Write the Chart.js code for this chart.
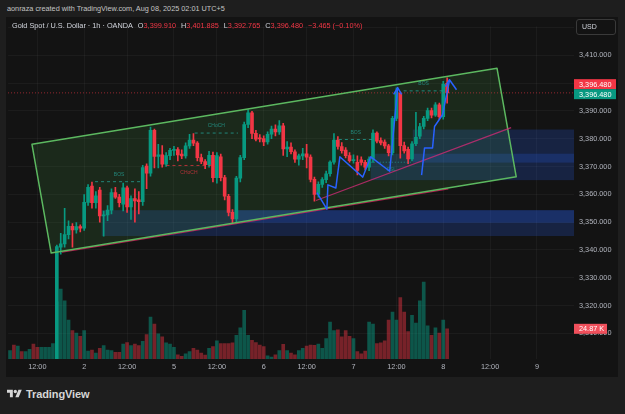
<!DOCTYPE html>
<html>
<head>
<meta charset="utf-8">
<title>XAUUSD 1h - OANDA</title>
<script src="https://cdn.jsdelivr.net/npm/chart.js@4.4.1/dist/chart.umd.min.js"></script>
<style>
  html, body { margin: 0; padding: 0; }
  body { width: 625px; height: 414px; background: #1e1e1e; position: relative; overflow: hidden;
         font-family: "Liberation Sans", Arial, sans-serif; }
  #byline { position: absolute; left: 7px; top: 4px; font-size: 7.3px; line-height: 10px; color: #c4c4c4; white-space: nowrap; }
  #panel { position: absolute; left: 6px; top: 17px; width: 612px; height: 360px; background: #131313; }
  #chart { position: absolute; left: 0; top: 0; }
  #legend { position: absolute; left: 6px; top: 4px; font-size: 7.3px; line-height: 10px; color: #d1d4dc; white-space: nowrap; z-index: 2; }
  #legend .v { color: #f23645; }
  #legend .g { margin-left: 5px; }
  #usd { position: absolute; left: 570px; top: 2px; width: 40px; height: 16px; box-sizing: border-box; border: 1px solid #3a3a3a;
         border-radius: 3px; font-size: 7px; line-height: 14px; color: #d1d4dc; padding-left: 5px; z-index: 2; }
  #brand svg { position: absolute; left: 7px; top: 388px; }
  #brand span { position: absolute; left: 26px; top: 387px; font-size: 11px; line-height: 14px; font-weight: bold; color: #d6d6d6; letter-spacing: -0.1px; }
</style>
</head>
<body>
<div id="byline">aonraza created with TradingView.com, Aug 08, 2025 02:01 UTC+5</div>
<div id="panel">
  <canvas id="chart" width="612" height="360"></canvas>
  <div id="legend"></div>
  <div id="usd">USD</div>
</div>
<div id="brand">
  <svg width="15" height="12" viewBox="0 0 36 28"><path fill="#d6d6d6" d="M14 22H7V11H0V4h14v18zM28 22h-8l7.5-18h8L28 22z"/><circle fill="#d6d6d6" cx="20" cy="8" r="4"/></svg>
  <span>TradingView</span>
</div>
<script>
// hourly candles, Gold Spot / USD (OANDA), from Aug 1 05:00 UTC+5
const open = [3289.0, 3291.0, 3289.0, 3292.0, 3290.5, 3291.8, 3293.2, 3290.0, 3287.5, 3289.4,
  3290.5, 3291.3, 3294.0, 3341.0, 3342.2, 3345.5, 3348.5, 3347.2, 3348.4, 3347.8,
  3357.1, 3363.0, 3357.0, 3361.5, 3352.2, 3352.6, 3354.3, 3360.6, 3359.0, 3356.5,
  3362.3, 3355.5, 3358.5, 3358.0, 3357.4, 3370.2, 3367.6, 3383.0, 3373.6, 3374.2,
  3370.8, 3373.9, 3375.8, 3376.1, 3374.5, 3373.8, 3377.4, 3379.5, 3378.4, 3373.2,
  3371.8, 3370.7, 3374.0, 3366.0, 3373.5, 3366.0, 3359.3, 3353.5, 3351.2, 3365.8,
  3373.2, 3385.1, 3389.3, 3381.9, 3380.3, 3380.0, 3378.8, 3381.6, 3383.5, 3382.4,
  3384.6, 3376.3, 3377.0, 3375.3, 3372.6, 3373.8, 3374.6, 3373.4, 3365.4, 3360.0,
  3363.6, 3365.3, 3367.4, 3371.6, 3379.5, 3377.2, 3375.9, 3373.9, 3372.1, 3371.5,
  3372.4, 3371.5, 3369.8, 3372.7, 3382.0, 3379.3, 3378.8, 3377.4, 3375.0, 3387.3,
  3396.3, 3377.5, 3376.2, 3372.7, 3378.2, 3380.9, 3384.4, 3387.3, 3390.1, 3388.5,
  3392.2, 3387.9, 3399.91];
const high = [3292.0, 3292.5, 3293.0, 3293.0, 3292.5, 3294.0, 3294.5, 3291.0, 3290.0, 3291.0,
  3292.0, 3295.0, 3341.8, 3346.0, 3355.0, 3350.5, 3349.5, 3349.8, 3349.0, 3359.9,
  3363.5, 3364.4, 3361.0, 3362.5, 3354.0, 3356.0, 3362.0, 3362.5, 3360.0, 3364.0,
  3363.0, 3359.5, 3362.0, 3361.0, 3370.4, 3371.0, 3384.2, 3383.5, 3378.0, 3377.5,
  3375.0, 3376.5, 3377.3, 3376.8, 3376.0, 3378.5, 3381.6, 3381.8, 3379.0, 3374.5,
  3372.5, 3375.5, 3375.2, 3375.0, 3374.5, 3366.8, 3360.0, 3354.5, 3366.5, 3374.0,
  3386.0, 3390.5, 3389.8, 3383.0, 3381.5, 3381.0, 3382.5, 3384.5, 3385.0, 3386.5,
  3385.5, 3379.0, 3378.5, 3376.0, 3374.5, 3376.5, 3378.0, 3374.2, 3366.2, 3364.5,
  3366.0, 3368.4, 3372.0, 3381.8, 3380.8, 3378.6, 3376.8, 3375.0, 3374.2, 3373.8,
  3373.5, 3372.2, 3373.5, 3383.2, 3382.5, 3380.3, 3379.6, 3378.0, 3388.0, 3398.3,
  3396.8, 3378.8, 3377.0, 3379.0, 3389.5, 3385.5, 3388.0, 3391.0, 3391.0, 3393.0,
  3392.8, 3400.6, 3401.885];
const low = [3287.0, 3288.0, 3288.5, 3289.5, 3290.0, 3291.0, 3289.0, 3286.5, 3286.8, 3288.6,
  3289.8, 3290.5, 3289.0, 3338.5, 3341.0, 3344.0, 3341.0, 3346.0, 3346.5, 3347.0,
  3356.0, 3355.0, 3355.0, 3350.0, 3345.0, 3350.5, 3353.0, 3358.5, 3355.5, 3354.0,
  3353.5, 3351.0, 3350.0, 3353.0, 3356.0, 3362.0, 3366.5, 3369.5, 3369.5, 3369.8,
  3370.0, 3372.5, 3374.0, 3372.0, 3372.8, 3373.0, 3376.5, 3377.5, 3372.0, 3371.0,
  3369.2, 3369.8, 3364.5, 3364.0, 3364.8, 3358.0, 3352.2, 3349.5, 3350.2, 3364.5,
  3372.5, 3384.0, 3380.0, 3379.2, 3378.8, 3377.5, 3378.0, 3380.0, 3381.0, 3381.5,
  3374.0, 3373.5, 3374.5, 3371.5, 3370.5, 3372.5, 3369.5, 3364.5, 3357.5, 3359.0,
  3362.5, 3364.2, 3366.5, 3370.8, 3376.2, 3374.8, 3373.1, 3371.6, 3371.2, 3367.0,
  3370.5, 3368.8, 3368.5, 3371.5, 3378.5, 3377.8, 3376.5, 3373.8, 3374.2, 3386.5,
  3373.0, 3374.8, 3371.0, 3372.0, 3377.5, 3380.0, 3383.5, 3386.5, 3387.5, 3388.0,
  3387.0, 3387.0, 3392.765];
const close = [3291.0, 3289.0, 3292.0, 3290.5, 3291.8, 3293.2, 3290.0, 3287.5, 3289.4, 3290.5,
  3291.3, 3294.0, 3341.2, 3342.2, 3345.5, 3348.5, 3347.2, 3348.4, 3347.8, 3357.1,
  3362.5, 3357.0, 3359.5, 3352.2, 3352.6, 3354.3, 3360.6, 3359.0, 3357.0, 3362.3,
  3355.5, 3358.5, 3357.6, 3357.4, 3369.6, 3367.6, 3383.0, 3373.6, 3374.2, 3370.8,
  3373.9, 3375.8, 3376.1, 3374.2, 3373.8, 3377.4, 3379.5, 3378.4, 3373.2, 3371.8,
  3370.7, 3374.0, 3366.0, 3373.9, 3366.0, 3359.3, 3353.5, 3351.2, 3365.8, 3373.2,
  3385.1, 3389.3, 3381.9, 3379.8, 3379.9, 3378.8, 3381.6, 3383.5, 3382.4, 3384.6,
  3376.3, 3377.0, 3375.3, 3372.6, 3373.8, 3374.6, 3373.4, 3365.4, 3360.0, 3363.6,
  3365.3, 3367.4, 3371.6, 3379.5, 3377.2, 3375.7, 3373.9, 3372.1, 3372.5, 3368.6,
  3371.5, 3369.8, 3372.7, 3382.0, 3379.1, 3378.5, 3377.4, 3375.0, 3387.3, 3396.6,
  3377.5, 3375.6, 3372.7, 3378.2, 3380.5, 3384.4, 3387.3, 3390.1, 3388.5, 3392.2,
  3387.9, 3399.6, 3396.48];
// volume, thousands
const volume = [7.0, 11.4, 10.6, 6.2, 6.2, 8.0, 12.2, 9.6, 9.6, 9.6,
  9.6, 12.8, 47.0, 57.6, 48.0, 32.0, 23.4, 21.4, 18.6, 23.4,
  6.6, 7.4, 4.8, 8.8, 11.0, 7.4, 7.0, 5.4, 5.4, 12.2,
  13.6, 11.0, 12.2, 11.0, 14.6, 20.2, 34.6, 28.8, 20.8, 18.2,
  13.4, 12.2, 9.6, 3.4, 2.2, 4.2, 6.2, 8.8, 7.4, 4.8,
  3.2, 8.8, 10.2, 15.0, 12.8, 12.8, 12.8, 13.4, 19.4, 25.6,
  40.0, 19.4, 15.4, 13.6, 11.4, 10.2, 2.6, 1.6, 3.4, 7.0,
  12.0, 7.0, 4.8, 3.4, 7.0, 8.8, 10.6, 11.4, 11.2, 12.2,
  8.8, 16.8, 30.4, 23.4, 24.0, 18.2, 23.4, 18.6, 16.8, 6.2,
  4.2, 6.6, 30.4, 28.8, 12.8, 13.4, 15.0, 32.0, 38.6, 32.0,
  50.6, 38.6, 22.6, 36.0, 29.6, 48.0, 63.4, 27.4, 19.4, 25.6,
  21.4, 32.0, 24.87];

// drawings, in (bar index, price)
const channel = [[5.63, 3377.97], [124.77, 3405.35], [129.7, 3366.3], [10.55, 3338.9]];
const channelBase = [[13.3, 3339.2], [112.3, 3361.95]];
const trendLine = [[78.4, 3357.8], [128.4, 3384.0]];
const zones = [[23.5, 3354.3, 3345.0], [58.2, 3354.3, 3349.8], [92.4, 3374.6, 3365.1], [103.2, 3383.3, 3371.4]];
const swingA = [[78.64, 3360.6], [81.19, 3354.65], [81.45, 3363.4], [83.49, 3362.3], [84.51, 3373.5],
  [90.39, 3366.2], [92.43, 3373.5], [97.28, 3368.3], [99.32, 3398.2]];
const arrowA = [[98.3, 3395.9], [99.32, 3398.4], [100.34, 3395.9]];
const swingB = [[105.45, 3366.9], [106.21, 3376.7], [108.26, 3376.7], [108.77, 3384.4], [110.81, 3388.6], [112.6, 3401.0]];
const arrowB = [[111.58, 3398.7], [112.6, 3401.2], [114.4, 3397.6]];
const marks = [
  { text: 'BOS', from: 21.79, to: 34.14, price: 3364.55, kind: 'bull' },
  { text: 'CHoCH', from: 47.32, to: 58.4, price: 3382.03, kind: 'bull' },
  { text: 'CHoCH', from: 40.09, to: 51.58, price: 3370.38, kind: 'bear' },
  { text: 'BOS', from: 84.26, to: 92.94, price: 3379.72, kind: 'bull' },
  { text: 'BOS', from: 100.85, to: 111.07, price: 3397.2, kind: 'bull' },
  { text: 'SSL', from: 92.43, to: 102.9, price: 3371.54, kind: 'liq' }
];

// bar times: 02:00 daily break and weekend gap on traded bars, plain hours after the last bar
const barTimes = [];
let t = Date.UTC(2025, 7, 1, 5);
while (barTimes.length < 145) {
  const d = new Date(t), h = d.getUTCHours(), wd = d.getUTCDay();
  const closed = barTimes.length < open.length &&
    (h === 2 || (wd === 6 && h >= 2) || wd === 0 || (wd === 1 && h < 3));
  if (!closed) barTimes.push(d);
  t += 3600e3;
}
const categories = barTimes.map(d => d.toISOString().slice(5, 13));
const timeLabels = barTimes.map(d => d.getUTCHours() === 12 ? '12:00' : d.getUTCHours() === 0 ? String(d.getUTCDate()) : '');

const UP = '#089981', DOWN = '#f23645';
const isUp = open.map((o, k) => close[k] >= o);
const fmt = v => v.toLocaleString('en-US', { minimumFractionDigits: 3, maximumFractionDigits: 3 });
const FONT = '"Liberation Sans", Arial, sans-serif';

const last = open.length - 1;
document.getElementById('legend').innerHTML =
  'Gold Spot / U.S. Dollar · 1h · OANDA' +
  '<span class="g">O<span class="v">' + fmt(open[last]) + '</span></span>' +
  '<span class="g">H<span class="v">' + fmt(high[last]) + '</span></span>' +
  '<span class="g">L<span class="v">' + fmt(low[last]) + '</span></span>' +
  '<span class="g">C<span class="v">' + fmt(close[last]) + '</span></span>' +
  '<span class="g v">−3.465 (−0.10%)</span>';

function path(ctx, x, y, pts) {
  ctx.beginPath();
  pts.forEach(([i, p], k) => {
    const px = x.getPixelForValue(i), py = y.getPixelForValue(p);
    if (k) ctx.lineTo(px, py); else ctx.moveTo(px, py);
  });
}

const drawings = {
  id: 'drawings',
  beforeDatasetsDraw(chart) {
    const { ctx, chartArea: a, scales: { x, y } } = chart;
    ctx.save();
    ctx.beginPath();
    ctx.rect(a.left, a.top, a.right - a.left, a.bottom - a.top);
    ctx.clip();
    ctx.fillStyle = 'rgba(41,98,255,0.2)';
    zones.forEach(([i0, top, bot]) => {
      const x0 = x.getPixelForValue(i0), y0 = y.getPixelForValue(top), y1 = y.getPixelForValue(bot);
      ctx.fillRect(x0, y0, a.right - x0, y1 - y0);
    });
    path(ctx, x, y, channel);
    ctx.closePath();
    ctx.fillStyle = 'rgba(76,175,80,0.14)';
    ctx.fill();
    ctx.restore();
  },
  afterDatasetsDraw(chart) {
    const { ctx, chartArea: a, scales: { x, y } } = chart;
    ctx.save();
    ctx.beginPath();
    ctx.rect(a.left, a.top, a.right - a.left, a.bottom - a.top);
    ctx.clip();
    ctx.lineJoin = 'round';

    // last price line
    const ly = y.getPixelForValue(close[last]);
    ctx.strokeStyle = 'rgba(242,54,69,0.6)';
    ctx.lineWidth = 1;
    ctx.setLineDash([1, 2]);
    ctx.beginPath(); ctx.moveTo(a.left, ly); ctx.lineTo(a.right, ly); ctx.stroke();
    ctx.setLineDash([]);

    // channel
    path(ctx, x, y, channelBase);
    ctx.strokeStyle = 'rgba(233,30,99,0.75)';
    ctx.lineWidth = 1.3;
    ctx.stroke();
    path(ctx, x, y, channel);
    ctx.closePath();
    ctx.strokeStyle = '#5cb860';
    ctx.lineWidth = 1.5;
    ctx.stroke();

    path(ctx, x, y, trendLine);
    ctx.strokeStyle = 'rgba(206,44,118,0.8)';
    ctx.lineWidth = 1.2;
    ctx.stroke();

    // structure marks
    marks.forEach(m => {
      const x0 = x.getPixelForValue(m.from), x1 = x.getPixelForValue(m.to), yy = y.getPixelForValue(m.price);
      const col = m.kind === 'bear' ? 'rgba(242,54,69,0.7)' : 'rgba(38,166,154,0.75)';
      ctx.strokeStyle = col;
      ctx.lineWidth = 1;
      ctx.setLineDash(m.kind === 'liq' ? [1, 2] : [3, 3]);
      ctx.beginPath(); ctx.moveTo(x0, yy); ctx.lineTo(x1, yy); ctx.stroke();
      ctx.setLineDash([]);
      ctx.fillStyle = col;
      ctx.font = '5px ' + FONT;
      ctx.textAlign = 'center';
      ctx.textBaseline = 'middle';
      ctx.fillText(m.text, (x0 + x1) / 2, yy + (m.kind === 'bull' ? -7 : 7));
    });

    // swing legs
    ctx.strokeStyle = '#2962ff';
    ctx.lineWidth = 1.5;
    [swingA, arrowA, swingB, arrowB].forEach(pts => { path(ctx, x, y, pts); ctx.stroke(); });
    ctx.restore();
  },
  afterDraw(chart) {
    const { ctx, chartArea: a, scales: { y, yv } } = chart;
    const tag = (text, cy, bg, w) => {
      ctx.fillStyle = bg;
      ctx.fillRect(a.right, cy - 5, w, 10);
      ctx.fillStyle = '#ffffff';
      ctx.font = '7.3px ' + FONT;
      ctx.textAlign = 'left';
      ctx.textBaseline = 'middle';
      ctx.fillText(text, a.right + 5, cy + 0.5);
    };
    const ly = y.getPixelForValue(close[last]);
    tag(fmt(close[last]), ly - 8.7, DOWN, 42);
    tag(fmt(close[last]), ly + 1.3, UP, 42);
    tag(volume[last].toFixed(2) + ' K', yv.getPixelForValue(volume[last]), '#f0505c', 33);
  }
};

new Chart(document.getElementById('chart'), {
  type: 'bar',
  data: {
    labels: categories,
    datasets: [
      {
        label: 'body',
        data: open.map((o, k) => [o, close[k]]),
        backgroundColor: isUp.map(u => u ? UP : DOWN),
        barThickness: 3,
        minBarLength: 1,
        grouped: false,
        yAxisID: 'y'
      },
      {
        label: 'wick',
        data: low.map((l, k) => [l, high[k]]),
        backgroundColor: isUp.map(u => u ? UP : DOWN),
        barThickness: 1,
        grouped: false,
        yAxisID: 'y'
      },
      {
        label: 'volume',
        data: volume,
        backgroundColor: isUp.map(u => u ? 'rgba(8,153,129,0.5)' : 'rgba(242,54,69,0.45)'),
        barThickness: 3,
        grouped: false,
        yAxisID: 'yv'
      }
    ]
  },
  options: {
    responsive: false,
    animation: false,
    layout: { padding: 0 },
    plugins: { legend: { display: false }, tooltip: { enabled: false } },
    scales: {
      x: {
        offset: true,
        border: { display: false },
        grid: {
          offset: false,
          drawTicks: false,
          color: c => timeLabels[c.index] ? 'rgba(255,255,255,0.04)' : 'transparent'
        },
        ticks: {
          autoSkip: false,
          maxRotation: 0,
          padding: 4,
          color: '#b2b5be',
          font: { size: 7.3, family: FONT },
          callback: (v, k) => timeLabels[k]
        },
        afterFit: s => { s.height = 18; }
      },
      y: {
        position: 'right',
        min: 3300.8,
        max: 3420.38,
        border: { display: false },
        grid: { drawTicks: false, color: 'rgba(255,255,255,0.04)' },
        ticks: {
          stepSize: 10,
          includeBounds: false,
          padding: 5,
          color: '#b2b5be',
          font: { size: 7.3, family: FONT },
          callback: v => (v < 3305 || v > 3415) ? '' : fmt(v)
        },
        afterFit: s => { s.width = 44; }
      },
      yv: {
        display: false,
        min: 0,
        max: 274
      }
    }
  },
  plugins: [drawings]
});
</script>
</body>
</html>
